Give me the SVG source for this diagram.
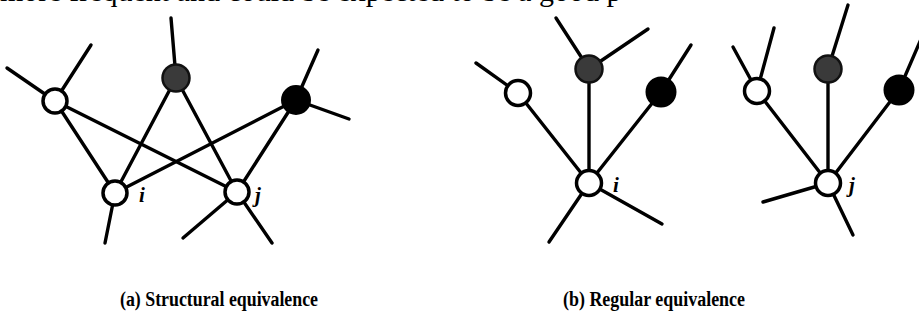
<svg xmlns="http://www.w3.org/2000/svg" width="919" height="324" viewBox="0 0 919 324">
<style>
.e{stroke:#000;stroke-width:3.4;stroke-linecap:round;fill:none}
.w{fill:#fff;stroke:#000;stroke-width:3.5}
.g{fill:#3a3a3a;stroke:#111;stroke-width:2.5}
.b{fill:#000;stroke:#000;stroke-width:2}
.lbl{font-family:"Liberation Serif","DejaVu Serif",serif;font-style:italic;font-weight:bold;font-size:21px;fill:#000}
.cap{font-family:"Liberation Serif","DejaVu Serif",serif;font-weight:bold;font-size:20px;fill:#000}
.top{font-family:"Liberation Serif","Times New Roman",serif;font-size:30px;fill:#000}
</style>
<rect width="919" height="324" fill="#fff"/>
<text class="top" x="0" y="1">more frequent and could be expected to be a good p</text>
<g id="connectors">
<line class="e" x1="55" y1="101" x2="115" y2="193"/>
<line class="e" x1="55" y1="101" x2="237" y2="192"/>
<line class="e" x1="176" y1="78" x2="115" y2="193"/>
<line class="e" x1="176" y1="78" x2="237" y2="192"/>
<line class="e" x1="296" y1="100" x2="115" y2="193"/>
<line class="e" x1="296" y1="100" x2="237" y2="192"/>
<line class="e" x1="55" y1="101" x2="7" y2="68"/>
<line class="e" x1="55" y1="101" x2="91" y2="45"/>
<line class="e" x1="176" y1="78" x2="171" y2="18"/>
<line class="e" x1="296" y1="100" x2="318" y2="50"/>
<line class="e" x1="296" y1="100" x2="349" y2="119"/>
<line class="e" x1="115" y1="193" x2="105" y2="243"/>
<line class="e" x1="237" y1="192" x2="183" y2="238"/>
<line class="e" x1="237" y1="192" x2="272" y2="243"/>
<line class="e" x1="518" y1="93" x2="589" y2="183"/>
<line class="e" x1="589" y1="69" x2="589" y2="183"/>
<line class="e" x1="661" y1="92" x2="589" y2="183"/>
<line class="e" x1="518" y1="93" x2="476" y2="63"/>
<line class="e" x1="589" y1="69" x2="556" y2="18"/>
<line class="e" x1="589" y1="69" x2="648" y2="29"/>
<line class="e" x1="661" y1="92" x2="691" y2="45"/>
<line class="e" x1="589" y1="183" x2="549" y2="242"/>
<line class="e" x1="589" y1="183" x2="662" y2="224"/>
<line class="e" x1="757" y1="91" x2="828" y2="183"/>
<line class="e" x1="828" y1="69" x2="828" y2="183"/>
<line class="e" x1="899" y1="90" x2="828" y2="183"/>
<line class="e" x1="757" y1="91" x2="733" y2="47"/>
<line class="e" x1="757" y1="91" x2="774" y2="28"/>
<line class="e" x1="828" y1="69" x2="848" y2="5"/>
<line class="e" x1="899" y1="90" x2="925" y2="30"/>
<line class="e" x1="828" y1="183" x2="763" y2="202"/>
<line class="e" x1="828" y1="183" x2="853" y2="235"/>
</g>
<g id="a-white"><circle class="w" cx="55" cy="101" r="12"/></g>
<g id="a-gray"><circle class="g" cx="176" cy="78" r="13.5"/></g>
<g id="a-black"><circle class="b" cx="296" cy="100" r="14"/></g>
<g id="a-i"><circle class="w" cx="115" cy="193" r="12"/><text class="lbl" x="139" y="202">i</text></g>
<g id="a-j"><circle class="w" cx="237" cy="192" r="12"/><text class="lbl" x="255" y="202">j</text></g>
<g id="b1-white"><circle class="w" cx="518" cy="93" r="12.5"/></g>
<g id="b1-gray"><circle class="g" cx="589" cy="69" r="13.5"/></g>
<g id="b1-black"><circle class="b" cx="661" cy="92" r="14.5"/></g>
<g id="b1-i"><circle class="w" cx="589" cy="183" r="12.5"/><text class="lbl" x="613" y="192">i</text></g>
<g id="b2-white"><circle class="w" cx="757" cy="91" r="12.5"/></g>
<g id="b2-gray"><circle class="g" cx="828" cy="69" r="13.5"/></g>
<g id="b2-black"><circle class="b" cx="899" cy="90" r="14.5"/></g>
<g id="b2-j"><circle class="w" cx="828" cy="183" r="12.5"/><text class="lbl" x="849" y="192">j</text></g>
<text class="cap" x="120" y="306" textLength="198" lengthAdjust="spacingAndGlyphs">(a) Structural equivalence</text>
<text class="cap" x="563" y="306" textLength="182" lengthAdjust="spacingAndGlyphs">(b) Regular equivalence</text>
</svg>
